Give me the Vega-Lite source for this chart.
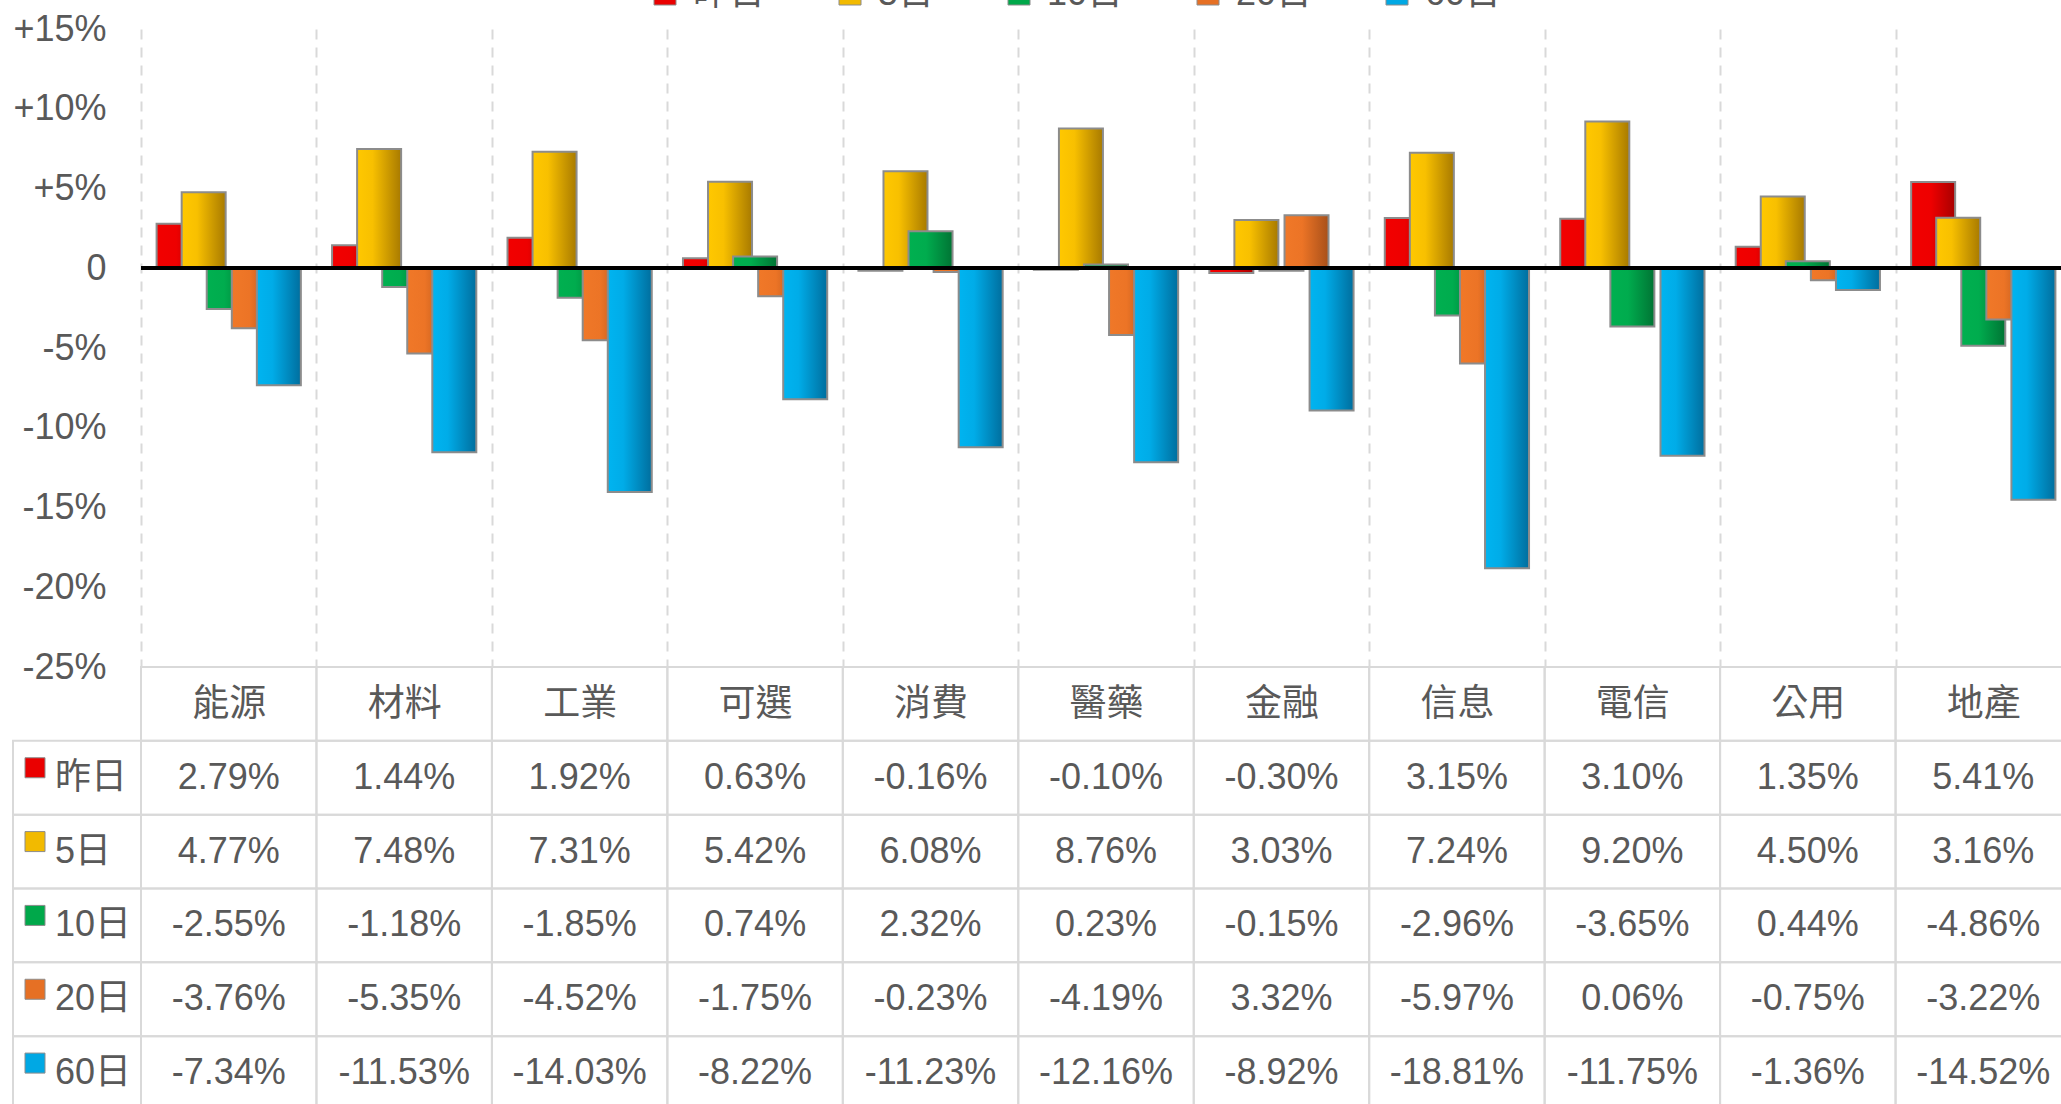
{
  "$schema": "https://vega.github.io/schema/vega-lite/v6.json",
  "width": 1920,
  "height": 638,
  "autosize": {"type": "none"},
  "padding": {"left": 141, "top": 29, "right": 0, "bottom": 437},
  "background": "white",
  "config": {
    "view": {"stroke": null},
    "font": "Liberation Sans",
    "locale": {"number": {"decimal": ".", "thousands": ",", "grouping": [3], "currency": ["", ""], "minus": "-"}}
  },
  "data": {"values": [
    {"c": "能源", "s": "昨日", "v": 0.0279}, {"c": "能源", "s": "5日", "v": 0.0477}, {"c": "能源", "s": "10日", "v": -0.0255}, {"c": "能源", "s": "20日", "v": -0.0376}, {"c": "能源", "s": "60日", "v": -0.0734},
    {"c": "材料", "s": "昨日", "v": 0.0144}, {"c": "材料", "s": "5日", "v": 0.0748}, {"c": "材料", "s": "10日", "v": -0.0118}, {"c": "材料", "s": "20日", "v": -0.0535}, {"c": "材料", "s": "60日", "v": -0.1153},
    {"c": "工業", "s": "昨日", "v": 0.0192}, {"c": "工業", "s": "5日", "v": 0.0731}, {"c": "工業", "s": "10日", "v": -0.0185}, {"c": "工業", "s": "20日", "v": -0.0452}, {"c": "工業", "s": "60日", "v": -0.1403},
    {"c": "可選", "s": "昨日", "v": 0.0063}, {"c": "可選", "s": "5日", "v": 0.0542}, {"c": "可選", "s": "10日", "v": 0.0074}, {"c": "可選", "s": "20日", "v": -0.0175}, {"c": "可選", "s": "60日", "v": -0.0822},
    {"c": "消費", "s": "昨日", "v": -0.0016}, {"c": "消費", "s": "5日", "v": 0.0608}, {"c": "消費", "s": "10日", "v": 0.0232}, {"c": "消費", "s": "20日", "v": -0.0023}, {"c": "消費", "s": "60日", "v": -0.1123},
    {"c": "醫藥", "s": "昨日", "v": -0.0010}, {"c": "醫藥", "s": "5日", "v": 0.0876}, {"c": "醫藥", "s": "10日", "v": 0.0023}, {"c": "醫藥", "s": "20日", "v": -0.0419}, {"c": "醫藥", "s": "60日", "v": -0.1216},
    {"c": "金融", "s": "昨日", "v": -0.0030}, {"c": "金融", "s": "5日", "v": 0.0303}, {"c": "金融", "s": "10日", "v": -0.0015}, {"c": "金融", "s": "20日", "v": 0.0332}, {"c": "金融", "s": "60日", "v": -0.0892},
    {"c": "信息", "s": "昨日", "v": 0.0315}, {"c": "信息", "s": "5日", "v": 0.0724}, {"c": "信息", "s": "10日", "v": -0.0296}, {"c": "信息", "s": "20日", "v": -0.0597}, {"c": "信息", "s": "60日", "v": -0.1881},
    {"c": "電信", "s": "昨日", "v": 0.0310}, {"c": "電信", "s": "5日", "v": 0.0920}, {"c": "電信", "s": "10日", "v": -0.0365}, {"c": "電信", "s": "20日", "v": 0.0006}, {"c": "電信", "s": "60日", "v": -0.1175},
    {"c": "公用", "s": "昨日", "v": 0.0135}, {"c": "公用", "s": "5日", "v": 0.0450}, {"c": "公用", "s": "10日", "v": 0.0044}, {"c": "公用", "s": "20日", "v": -0.0075}, {"c": "公用", "s": "60日", "v": -0.0136},
    {"c": "地產", "s": "昨日", "v": 0.0541}, {"c": "地產", "s": "5日", "v": 0.0316}, {"c": "地產", "s": "10日", "v": -0.0486}, {"c": "地產", "s": "20日", "v": -0.0322}, {"c": "地產", "s": "60日", "v": -0.1452}
  ]},
  "resolve": {"scale": {"x": "independent", "y": "independent"}},
  "layer": [
    {
      "transform": [{"filter": "datum.s == '昨日'"}],
      "mark": {"type": "rect", "fill": "transparent", "stroke": "#D9D9D9", "strokeWidth": 2},
      "encoding": {
        "x": {"field": "c", "type": "nominal", "scale": {"domain": ["能源","材料","工業","可選","消費","醫藥","金融","信息","電信","公用","地產"], "range": [0, 1930], "paddingInner": 0, "paddingOuter": 0}, "axis": null},
        "y": {"datum": "h", "type": "nominal", "scale": {"domain": ["h","昨日","5日","10日","20日","60日"], "range": [638, 1081], "paddingInner": 0, "paddingOuter": 0}, "axis": null}
      }
    },
    {
      "mark": {"type": "rect", "fill": "transparent", "stroke": "#D9D9D9", "strokeWidth": 2},
      "encoding": {
        "x": {"field": "c", "type": "nominal", "scale": {"domain": ["能源","材料","工業","可選","消費","醫藥","金融","信息","電信","公用","地產"], "range": [0, 1930], "paddingInner": 0, "paddingOuter": 0}, "axis": null},
        "y": {"field": "s", "type": "nominal", "scale": {"domain": ["h","昨日","5日","10日","20日","60日"], "range": [638, 1081], "paddingInner": 0, "paddingOuter": 0}, "axis": null}
      }
    },
    {
      "transform": [{"filter": "datum.s == '昨日'"}],
      "mark": {"type": "bar", "width": 44, "stroke": "#8C8C8C", "strokeWidth": 2,
        "fill": {"gradient": "linear", "x1": 0, "y1": 0, "x2": 1, "y2": 0, "stops": [{"offset": 0, "color": "#F20000"}, {"offset": 0.45, "color": "#EE0000"}, {"offset": 1, "color": "#A80000"}]}},
      "encoding": {
        "x": {"field": "c", "type": "nominal", "scale": {"domain": ["能源","材料","工業","可選","消費","醫藥","金融","信息","電信","公用","地產"], "range": [0, 1930], "paddingInner": 0, "paddingOuter": 0},
          "axis": {"orient": "bottom", "title": null, "domain": false, "ticks": false, "grid": true, "tickBand": "extent", "gridDash": [10, 8], "gridColor": "#D9D9D9", "gridWidth": 2, "labelAngle": 0, "labelFont": "Noto Sans CJK TC", "labelFontSize": 37, "labelColor": "#595959", "labelPadding": 37, "labelBaseline": "middle"}},
        "xOffset": {"field": "s", "type": "nominal", "scale": {"domain": ["昨日","5日","10日","20日","60日"], "paddingInner": 0, "paddingOuter": 1.5}},
        "y": {"field": "v", "type": "quantitative", "scale": {"domain": [-0.25, 0.15], "nice": false, "zero": false},
          "axis": {"title": null, "domain": false, "ticks": false, "values": [-0.25, -0.2, -0.15, -0.1, -0.05, 0, 0.05, 0.1, 0.15], "labelExpr": "datum.value > 0.0001 ? '+' + format(datum.value, '.0%') : (abs(datum.value) < 0.0001 ? '0' : format(datum.value, '.0%'))", "labelFont": "Liberation Sans", "labelFontSize": 36, "labelColor": "#595959", "labelPadding": 35, "gridColor": "#D9D9D9", "gridWidth": 2}}
      }
    },
    {
      "transform": [{"filter": "datum.s == '5日'"}],
      "mark": {"type": "bar", "width": 44, "stroke": "#8C8C8C", "strokeWidth": 2,
        "fill": {"gradient": "linear", "x1": 0, "y1": 0, "x2": 1, "y2": 0, "stops": [{"offset": 0, "color": "#FFC800"}, {"offset": 0.35, "color": "#F8C000"}, {"offset": 1, "color": "#A87A00"}]}},
      "encoding": {
        "x": {"field": "c", "type": "nominal", "scale": {"domain": ["能源","材料","工業","可選","消費","醫藥","金融","信息","電信","公用","地產"], "range": [0, 1930], "paddingInner": 0, "paddingOuter": 0}, "axis": null},
        "xOffset": {"field": "s", "type": "nominal", "scale": {"domain": ["昨日","5日","10日","20日","60日"], "paddingInner": 0, "paddingOuter": 1.5}},
        "y": {"field": "v", "type": "quantitative", "scale": {"domain": [-0.25, 0.15], "nice": false, "zero": false}, "axis": null}
      }
    },
    {
      "transform": [{"filter": "datum.s == '10日'"}],
      "mark": {"type": "bar", "width": 44, "stroke": "#8C8C8C", "strokeWidth": 2,
        "fill": {"gradient": "linear", "x1": 0, "y1": 0, "x2": 1, "y2": 0, "stops": [{"offset": 0, "color": "#00B050"}, {"offset": 0.4, "color": "#00AC4E"}, {"offset": 1, "color": "#007434"}]}},
      "encoding": {
        "x": {"field": "c", "type": "nominal", "scale": {"domain": ["能源","材料","工業","可選","消費","醫藥","金融","信息","電信","公用","地產"], "range": [0, 1930], "paddingInner": 0, "paddingOuter": 0}, "axis": null},
        "xOffset": {"field": "s", "type": "nominal", "scale": {"domain": ["昨日","5日","10日","20日","60日"], "paddingInner": 0, "paddingOuter": 1.5}},
        "y": {"field": "v", "type": "quantitative", "scale": {"domain": [-0.25, 0.15], "nice": false, "zero": false}, "axis": null}
      }
    },
    {
      "transform": [{"filter": "datum.s == '20日'"}],
      "mark": {"type": "bar", "width": 44, "stroke": "#8C8C8C", "strokeWidth": 2,
        "fill": {"gradient": "linear", "x1": 0, "y1": 0, "x2": 1, "y2": 0, "stops": [{"offset": 0, "color": "#F07828"}, {"offset": 0.4, "color": "#EC7426"}, {"offset": 1, "color": "#A8501A"}]}},
      "encoding": {
        "x": {"field": "c", "type": "nominal", "scale": {"domain": ["能源","材料","工業","可選","消費","醫藥","金融","信息","電信","公用","地產"], "range": [0, 1930], "paddingInner": 0, "paddingOuter": 0}, "axis": null},
        "xOffset": {"field": "s", "type": "nominal", "scale": {"domain": ["昨日","5日","10日","20日","60日"], "paddingInner": 0, "paddingOuter": 1.5}},
        "y": {"field": "v", "type": "quantitative", "scale": {"domain": [-0.25, 0.15], "nice": false, "zero": false}, "axis": null}
      }
    },
    {
      "transform": [{"filter": "datum.s == '60日'"}],
      "mark": {"type": "bar", "width": 44, "stroke": "#8C8C8C", "strokeWidth": 2,
        "fill": {"gradient": "linear", "x1": 0, "y1": 0, "x2": 1, "y2": 0, "stops": [{"offset": 0, "color": "#00B4F0"}, {"offset": 0.35, "color": "#00ACE8"}, {"offset": 1, "color": "#006E9E"}]}},
      "encoding": {
        "x": {"field": "c", "type": "nominal", "scale": {"domain": ["能源","材料","工業","可選","消費","醫藥","金融","信息","電信","公用","地產"], "range": [0, 1930], "paddingInner": 0, "paddingOuter": 0}, "axis": null},
        "xOffset": {"field": "s", "type": "nominal", "scale": {"domain": ["昨日","5日","10日","20日","60日"], "paddingInner": 0, "paddingOuter": 1.5}},
        "y": {"field": "v", "type": "quantitative", "scale": {"domain": [-0.25, 0.15], "nice": false, "zero": false}, "axis": null}
      }
    },
    {
      "mark": {"type": "rule", "color": "black", "strokeWidth": 3},
      "encoding": {
        "y": {"datum": 0, "type": "quantitative", "scale": {"domain": [-0.25, 0.15], "nice": false, "zero": false}, "axis": null}
      }
    },
    {
      "mark": {"type": "text", "font": "Liberation Sans", "fontSize": 36, "color": "#595959", "baseline": "middle", "align": "center"},
      "encoding": {
        "x": {"field": "c", "type": "nominal", "scale": {"domain": ["能源","材料","工業","可選","消費","醫藥","金融","信息","電信","公用","地產"], "range": [0, 1930], "paddingInner": 0, "paddingOuter": 0}, "axis": null},
        "y": {"field": "s", "type": "nominal", "scale": {"domain": ["h","昨日","5日","10日","20日","60日"], "range": [638, 1081], "paddingInner": 0, "paddingOuter": 0}, "axis": null},
        "text": {"field": "v", "type": "quantitative", "format": ".2%"}
      }
    },
    {
      "transform": [{"filter": "datum.c == '能源'"}],
      "mark": {"type": "rect", "fill": "transparent", "stroke": "#D9D9D9", "strokeWidth": 2},
      "encoding": {
        "x": {"datum": "lbl", "type": "nominal", "scale": {"domain": ["lbl"], "range": [-128, 0], "paddingInner": 0, "paddingOuter": 0}, "axis": null},
        "y": {"field": "s", "type": "nominal", "scale": {"domain": ["h","昨日","5日","10日","20日","60日"], "range": [638, 1081], "paddingInner": 0, "paddingOuter": 0}, "axis": null}
      }
    },
    {
      "transform": [{"filter": "datum.c == '能源'"}],
      "mark": {"type": "point", "shape": "square", "filled": true, "size": 400, "opacity": 1, "stroke": "#8C8C8C", "strokeWidth": 1},
      "encoding": {
        "x": {"datum": "sq", "type": "nominal", "scale": {"domain": ["sq"], "range": [-128, -84], "paddingInner": 0, "paddingOuter": 0}, "axis": null},
        "y": {"field": "s", "type": "nominal", "scale": {"domain": ["h","昨日","5日","10日","20日","60日"], "range": [628, 1071], "paddingInner": 0, "paddingOuter": 0}, "axis": null},
        "fill": {"field": "s", "type": "nominal",
          "scale": {"domain": ["昨日","5日","10日","20日","60日"], "range": ["#EA0000", "#F2BA00", "#00A84A", "#E67024", "#00A8E4"]},
          "legend": {"orient": "none", "legendX": 506, "legendY": -53, "direction": "horizontal", "title": null, "symbolType": "square", "symbolSize": 484, "symbolStrokeColor": "#8C8C8C", "symbolStrokeWidth": 1, "symbolOpacity": 1, "labelFont": "Liberation Sans, Noto Sans CJK TC", "labelFontSize": 36, "labelColor": "#595959", "labelOffset": 10, "columnPadding": 66}}
      }
    },
    {
      "transform": [{"filter": "datum.c == '能源'"}],
      "mark": {"type": "text", "font": "Liberation Sans, Noto Sans CJK TC", "fontSize": 36, "color": "#595959", "baseline": "middle", "align": "left", "dx": -22},
      "encoding": {
        "x": {"datum": "lbl", "type": "nominal", "scale": {"domain": ["lbl"], "range": [-128, 0], "paddingInner": 0, "paddingOuter": 0}, "axis": null},
        "y": {"field": "s", "type": "nominal", "scale": {"domain": ["h","昨日","5日","10日","20日","60日"], "range": [638, 1081], "paddingInner": 0, "paddingOuter": 0}, "axis": null},
        "text": {"field": "s", "type": "nominal"}
      }
    }
  ]
}
